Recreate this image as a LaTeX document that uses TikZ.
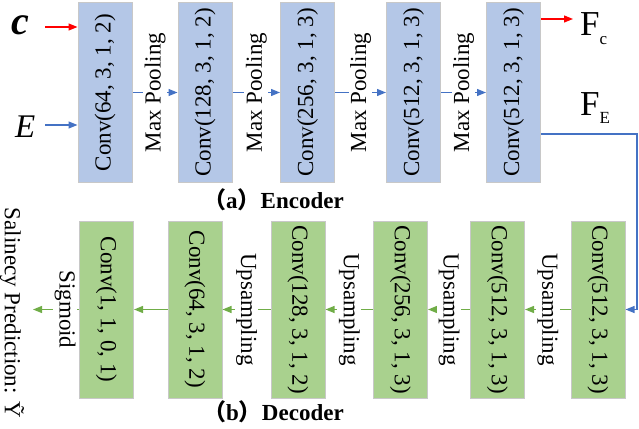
\documentclass[tikz,border=0pt]{standalone}
\usepackage{fontspec}
\setmainfont{Liberation Serif}
\newfontfamily\cjk{Noto Sans CJK SC}
\usetikzlibrary{arrows.meta}
\definecolor{encfill}{HTML}{B4C7E7}
\definecolor{decfill}{HTML}{A9D18E}
\definecolor{boxline}{HTML}{C8C8C8}
\definecolor{bluearr}{HTML}{4472C4}
\definecolor{greenarr}{HTML}{70AD47}
\definecolor{redarr}{HTML}{FF0000}
\newcommand{\bodyfont}{\fontsize{23}{27}\selectfont}
\begin{document}
\begin{tikzpicture}[x=1pt,y=-1pt,
  encbox/.style={draw=boxline, line width=1pt, fill=encfill, minimum width=54pt, minimum height=179pt, inner sep=0pt},
  decbox/.style={draw=boxline, line width=1pt, fill=decfill, minimum width=54pt, minimum height=177pt, inner sep=0pt},
  boxtext/.style={font=\bodyfont, inner sep=0pt},
  lbl/.style={font=\bodyfont, fill=white, inner xsep=0pt, inner ysep=1.5pt},
  barr/.style={draw=bluearr, line width=1.2pt, -{Triangle[length=9pt,width=7pt]}},
  garr/.style={draw=greenarr, line width=1.2pt, -{Triangle[length=9pt,width=7pt]}},
  rarr/.style={draw=redarr, line width=1.2pt, -{Triangle[length=9pt,width=7pt]}},
]
\useasboundingbox (0,0) rectangle (639,428);

% encoder boxes
\node[encbox] (e1) at (105,92.5) {};
\node[encbox] (e2) at (205,92.5) {};
\node[encbox] (e3) at (307.5,92.5) {};
\node[encbox] (e4) at (413.5,92.5) {};
\node[encbox] (e5) at (513.5,92.5) {};
\node[boxtext, rotate=90] (t1) at (e1.center) {Conv(64, 3, 1, 2)};
\node[boxtext, rotate=90] (t2) at (e2.center) {Conv(128, 3, 1, 2)};
\node[boxtext, rotate=90] (t3) at (e3.center) {Conv(256, 3, 1, 3)};
\node[boxtext, rotate=90] (t4) at (e4.center) {Conv(512, 3, 1, 3)};
\node[boxtext, rotate=90] (t5) at (e5.center) {Conv(512, 3, 1, 3)};

\draw[barr] (e1.east) -- node[lbl, rotate=90] {Max Pooling} (e2.west);
\draw[barr] (e2.east) -- node[lbl, rotate=90] {Max Pooling} (e3.west);
\draw[barr] (e3.east) -- node[lbl, rotate=90] {Max Pooling} (e4.west);
\draw[barr] (e4.east) -- node[lbl, rotate=90] {Max Pooling} (e5.west);

% inputs
\node[font=\fontsize{40}{40}\selectfont\bfseries\itshape, anchor=base west, inner sep=0pt] (cl) at (11,35) {c};
\node[font=\fontsize{33}{33}\selectfont\itshape, anchor=base west, inner sep=0pt] (el) at (15,137) {E};
\coordinate (cin) at (45,27);
\coordinate (ein) at (45,125);
\draw[rarr] (cin) -- (cin -| e1.west);
\draw[barr] (ein) -- (ein -| e1.west);

% outputs
\coordinate (fc) at (573,19);
\draw[rarr] (fc -| e5.east) -- (fc);
\node[font=\fontsize{35}{35}\selectfont, anchor=base west, inner sep=0pt] (fcl) at (580,36) {F\raisebox{-9pt}{\fontsize{17}{17}\selectfont c}};
\node[font=\fontsize{35}{35}\selectfont, anchor=base west, inner sep=0pt] (fel) at (580,115) {F\raisebox{-8pt}{\fontsize{17}{17}\selectfont E}};

% captions
\node[font=\bodyfont\bfseries, anchor=base west, inner sep=0pt] (capa) at (203,208) {{\cjk （}a{\cjk ）}Encoder};
\node[font=\bodyfont\bfseries, anchor=base west, inner sep=0pt] (capb) at (203,420) {{\cjk （}b{\cjk ）}Decoder};

% decoder boxes
\node[decbox] (d1) at (598,309.5) {};
\node[decbox] (d2) at (497.5,309.5) {};
\node[decbox] (d3) at (400.5,309.5) {};
\node[decbox] (d4) at (298,309.5) {};
\node[decbox] (d5) at (195,309.5) {};
\node[decbox] (d6) at (106.5,309.5) {};
\node[boxtext, rotate=-90] (u1) at (d1.center) {Conv(512, 3, 1, 3)};
\node[boxtext, rotate=-90] (u2) at (d2.center) {Conv(512, 3, 1, 3)};
\node[boxtext, rotate=-90] (u3) at (d3.center) {Conv(256, 3, 1, 3)};
\node[boxtext, rotate=-90] (u4) at (d4.center) {Conv(128, 3, 1, 2)};
\node[boxtext, rotate=-90] (u5) at (d5.center) {Conv(64, 3, 1, 2)};
\node[boxtext, rotate=-90] (u6) at (d6.center) {Conv(1, 1, 0, 1)};

% encoder -> decoder
\coordinate (corner) at (637,134);
\draw[barr] (corner -| e5.east) -- (corner) |- (d1.east);

\draw[garr] (d1.west) -- node[lbl, rotate=-90] {Upsampling} (d2.east);
\draw[garr] (d2.west) -- node[lbl, rotate=-90] {Upsampling} (d3.east);
\draw[garr] (d3.west) -- node[lbl, rotate=-90] {Upsampling} (d4.east);
\draw[garr] (d4.west) -- node[lbl, rotate=-90] {Upsampling} (d5.east);
\draw[garr] (d5.west) -- (d6.east);
\coordinate (out) at (33,309.5);
\draw[garr] (d6.west) -- node[lbl, rotate=-90, pos=0.3] {Sigmoid} (out);

\node[font=\bodyfont, rotate=-90, inner sep=0pt] (sal) at (12,313) {Salinecy Prediction: Ỹ};
\end{tikzpicture}
\end{document}
